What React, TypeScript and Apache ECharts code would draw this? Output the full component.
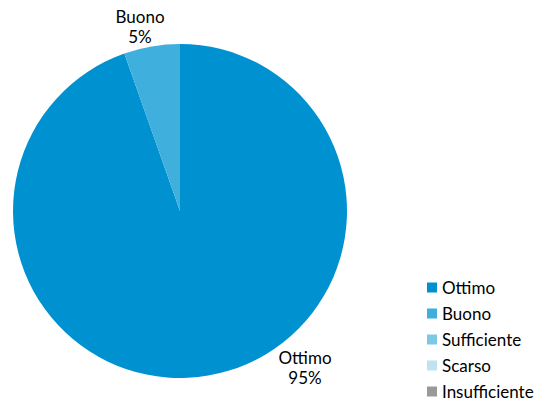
import React, { useEffect, useRef } from "react";
import * as echarts from "echarts";

const categories = ["Ottimo", "Buono", "Sufficiente", "Scarso", "Insufficiente"];
const values = [35, 2, 0, 0, 0];
const colors = ["#0091D1", "#3FAFDD", "#7BC8E5", "#BEE3EF", "#999999"];

export default function App() {
  const ref = useRef<HTMLDivElement>(null);
  useEffect(() => {
    if (!ref.current) return;
    const chart = echarts.init(ref.current, undefined, { renderer: "svg" });
    const font = "Lato, 'Open Sans', sans-serif";
    chart.setOption({
      animation: false,
      backgroundColor: "#ffffff",
      color: colors,
      legend: {
        orient: "vertical",
        left: 427,
        top: 279,
        padding: 0,
        itemWidth: 10,
        itemHeight: 10,
        itemGap: 9,
        icon: "rect",
        data: categories,
        textStyle: { fontFamily: font, fontSize: 17, color: "#000", lineHeight: 16 },
      },
      series: [
        {
          type: "pie",
          center: [180, 211],
          radius: 167,
          startAngle: 90,
          clockwise: true,
          label: {
            show: true,
            formatter: (p: any) => `${p.name}\n${Math.round(p.percent)}%`,
            fontFamily: font,
            fontSize: 17,
            color: "#000",
            lineHeight: 20,
            align: "center",
          },
          labelLine: { show: false },
          labelLayout: (p: any) => {
            if (p.dataIndex === 0) return { x: 305, y: 367, align: "center", verticalAlign: "middle" };
            if (p.dataIndex === 1) return { x: 140, y: 26, align: "center", verticalAlign: "middle" };
            return {};
          },
          data: categories.map((c, i) => ({
            name: c,
            value: values[i],
            label: { show: values[i] > 0 },
          })),
        },
      ],
    });
    return () => chart.dispose();
  }, []);
  return <div ref={ref} style={{ position: "absolute", left: 0, top: 0, width: 538, height: 401 }} />;
}
